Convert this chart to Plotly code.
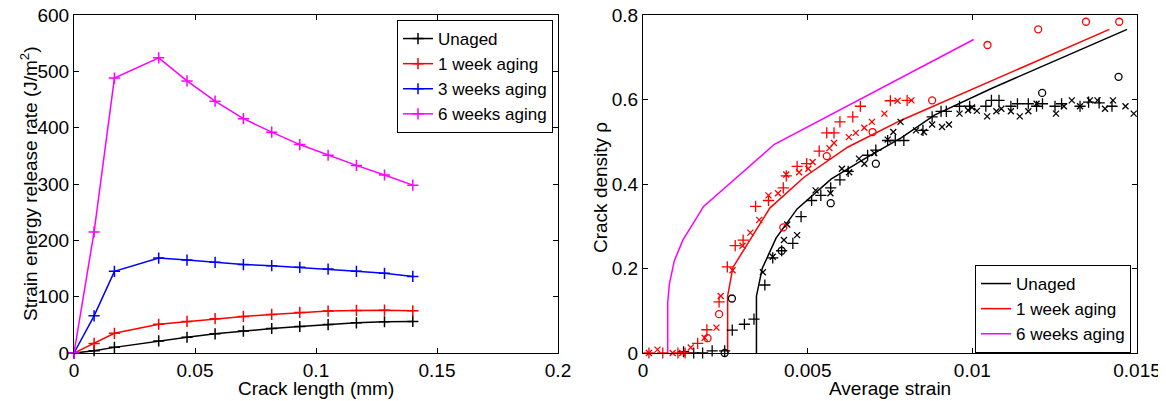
import plotly.graph_objects as go

# ---------------- Left panel data ----------------
crack_len = [0, 0.0083, 0.0167, 0.035, 0.0467, 0.0583, 0.07, 0.0817, 0.0933, 0.105, 0.1167, 0.1283, 0.14]
g_unaged = [0, 4, 10, 21.5, 28, 34, 39, 43.5, 47, 50.5, 53.5, 55.5, 56]
g_1week = [0, 17, 35, 51, 56, 61, 65, 68.5, 72, 74.5, 75.5, 76, 75]
g_3weeks = [0, 66, 145, 168.5, 165, 161, 157, 155, 152, 149, 145, 141.5, 136]
g_6weeks = [0, 215, 488, 524, 483, 447, 416, 392, 370, 351, 333, 316, 298]

# ---------------- Right panel data ----------------
# model curves
line_unaged_x = [0.003445, 0.003445, 0.00362, 0.00404, 0.00468, 0.00572, 0.0068, 0.00785, 0.00885, 0.01058, 0.0147]
line_unaged_y = [0, 0.135, 0.2, 0.272, 0.341, 0.412, 0.463, 0.51, 0.563, 0.626, 0.766]
line_1week_x = [0.00257, 0.00257, 0.00273, 0.00385, 0.00489, 0.00621, 0.00784, 0.01416]
line_1week_y = [0, 0.135, 0.2025, 0.343, 0.416, 0.487, 0.551, 0.766]
line_6weeks_x = [0.00075, 0.00075, 0.0008, 0.00095, 0.00121, 0.00184, 0.00399, 0.01004]
line_6weeks_y = [0, 0.119, 0.163, 0.218, 0.267, 0.347, 0.494, 0.742]

# experimental points: unaged
bp_x = [0.00123, 0.00154, 0.00181, 0.0021, 0.00248, 0.00271, 0.00308, 0.00337, 0.0037, 0.00394, 0.00421,
        0.00455, 0.0048, 0.00512, 0.0054, 0.0057, 0.00598, 0.00623, 0.00682, 0.00707, 0.00743, 0.00766,
        0.00792, 0.0085, 0.00878, 0.00905, 0.00921, 0.00961, 0.00992, 0.01041, 0.01058, 0.01081, 0.01117,
        0.01137, 0.0117, 0.01195, 0.01213, 0.01251, 0.01271, 0.01327, 0.01353, 0.01385, 0.01424]
bp_y = [0.003, 0, 0, 0.005, 0.005, 0.054, 0.068, 0.080, 0.161, 0.225, 0.242,
        0.2595, 0.323, 0.361, 0.373, 0.391, 0.41, 0.430, 0.468, 0.48, 0.503, 0.503,
        0.503, 0.527, 0.559, 0.572, 0.572, 0.584, 0.584, 0.584, 0.598, 0.598, 0.584,
        0.590, 0.590, 0.584, 0.590, 0.584, 0.590, 0.584, 0.594, 0.592, 0.584]
bx_x = [0.00364, 0.00394, 0.00428, 0.00438, 0.00468, 0.00524, 0.00569, 0.00604, 0.00626, 0.00656, 0.00672,
        0.00702, 0.00743, 0.0076, 0.00782, 0.00829, 0.00853, 0.00878, 0.00908, 0.00929, 0.00961, 0.00987,
        0.00999, 0.01014, 0.01045, 0.01073, 0.01088, 0.01117, 0.01144, 0.0117, 0.01195, 0.01254, 0.01278,
        0.01302, 0.01327, 0.01357, 0.0138, 0.01403, 0.01427, 0.01465, 0.0149]
bx_y = [0.191, 0.228, 0.2675, 0.304, 0.279, 0.385, 0.378, 0.436, 0.428, 0.46, 0.448,
        0.473, 0.505, 0.523, 0.547, 0.527, 0.523, 0.541, 0.535, 0.541, 0.5665, 0.5745,
        0.581, 0.573, 0.560, 0.572, 0.578, 0.572, 0.560, 0.572, 0.590, 0.5665, 0.584,
        0.598, 0.584, 0.598, 0.598, 0.578, 0.598, 0.584, 0.5665]
bo_x = [0.00248, 0.0027, 0.00421, 0.0057, 0.00707, 0.01212, 0.01444]
bo_y = [0, 0.129, 0.242, 0.3545, 0.448, 0.6156, 0.6536]

# experimental points: 1 week aging
rp_x = [0.00018, 0.0006, 0.00106, 0.00128, 0.00166, 0.00194, 0.00231, 0.00256, 0.0028, 0.00304, 0.00342,
        0.00381, 0.00426, 0.00435, 0.00468, 0.00497, 0.00535, 0.00558, 0.0058, 0.00598, 0.00637, 0.0066,
        0.00751, 0.00802]
rp_y = [0, 0, 0, 0, 0.023, 0.055, 0.121, 0.204, 0.254, 0.267, 0.347,
        0.361, 0.391, 0.419, 0.4415, 0.448, 0.478, 0.521, 0.521, 0.547, 0.559, 0.584,
        0.597, 0.598]
rx_x = [0.00018, 0.00044, 0.0009, 0.00119, 0.00145, 0.00187, 0.00223, 0.00236, 0.00272, 0.00302, 0.00326,
        0.00353, 0.00381, 0.0041, 0.00435, 0.00474, 0.00502, 0.00515, 0.00566, 0.0058, 0.00625, 0.00646,
        0.00672, 0.00695, 0.00733, 0.00773, 0.00815]
rx_y = [0, 0.008, 0, 0, 0.013, 0.036, 0.060, 0.135, 0.196, 0.254, 0.285,
        0.315, 0.373, 0.378, 0.4225, 0.428, 0.436, 0.452, 0.485, 0.497, 0.511, 0.521,
        0.533, 0.547, 0.5665, 0.597, 0.598]
ro_x = [0.00196, 0.00231, 0.00426, 0.00558, 0.00697, 0.00878, 0.01046, 0.0120, 0.01345, 0.01446]
ro_y = [0.035, 0.092, 0.2975, 0.466, 0.523, 0.598, 0.729, 0.766, 0.784, 0.784]

BLACK, RED, BLUE, MAG = "#000000", "#ff0000", "#0000ff", "#ff00ff"
FONT = "Liberation Sans, Arial, Helvetica, sans-serif"

fig = go.Figure()

for name, ys, col in [("Unaged", g_unaged, BLACK), ("1 week aging", g_1week, RED),
                      ("3 weeks aging", g_3weeks, BLUE), ("6 weeks aging", g_6weeks, MAG)]:
    fig.add_trace(go.Scatter(
        x=crack_len, y=ys, name=name, mode="lines+markers",
        line=dict(color=col, width=1.5),
        marker=dict(symbol="cross-thin-open", size=8, line=dict(color=col, width=1.5)),
        cliponaxis=False, xaxis="x", yaxis="y", legend="legend"))

for name, xs, ys, col in [("Unaged", line_unaged_x, line_unaged_y, BLACK),
                          ("1 week aging", line_1week_x, line_1week_y, RED),
                          ("6 weeks aging", line_6weeks_x, line_6weeks_y, MAG)]:
    fig.add_trace(go.Scatter(x=xs, y=ys, name=name, mode="lines",
                             line=dict(color=col, width=1.5),
                             xaxis="x2", yaxis="y2", legend="legend2"))

def pts(xs, ys, col, sym, size):
    fig.add_trace(go.Scatter(x=xs, y=ys, mode="markers", showlegend=False,
                             marker=dict(symbol=sym, size=size, color=col,
                                         line=dict(color=col, width=1.3)),
                             cliponaxis=False, xaxis="x2", yaxis="y2"))

pts(bp_x, bp_y, BLACK, "cross-thin-open", 8)
pts(bx_x, bx_y, BLACK, "x-thin-open", 6)
pts(bo_x, bo_y, BLACK, "circle-open", 7)
pts(rp_x, rp_y, RED, "cross-thin-open", 8)
pts(rx_x, rx_y, RED, "x-thin-open", 6)
pts(ro_x, ro_y, RED, "circle-open", 7)

FS = 19
LFS = 17
axis_common = dict(showline=True, linecolor="black", linewidth=1, mirror="ticks",
                   ticks="inside", ticklen=5, tickcolor="black", showgrid=False,
                   zeroline=False, automargin=False, ticklabeloverflow="allow",
                   tickfont=dict(size=FS, color="black"))

# the page's 8px body margin shifts the figure; size it to fill the visible window
FW, FH = 1158, 393
L, R, T, B = 66, 29, 7, 48
W = FW - L - R
H = FH - T - B
LEFT_END = 484 / W
RIGHT_START = 569 / W

fig.update_layout(
    width=FW, height=FH,
    margin=dict(l=L, r=R, t=T, b=B, autoexpand=False),
    paper_bgcolor="white", plot_bgcolor="white",
    font=dict(family=FONT, size=FS, color="black"),
    xaxis=dict(domain=[0, LEFT_END], range=[0, 0.2], dtick=0.05, **axis_common),
    yaxis=dict(domain=[0, 1], range=[0, 600], dtick=100, **axis_common),
    xaxis2=dict(domain=[RIGHT_START, 1], range=[0, 0.015], dtick=0.005, anchor="y2", **axis_common),
    yaxis2=dict(domain=[0, 1], range=[0, 0.8], dtick=0.2, anchor="x2", **axis_common),
    legend=dict(x=(545 - L) / W, xanchor="right", y=(H - 5) / H, yanchor="top",
                bordercolor="black", borderwidth=1, bgcolor="white",
                font=dict(size=LFS), itemwidth=30, tracegroupgap=0),
    legend2=dict(x=(1123 - L) / W, xanchor="right", y=0.0, yanchor="bottom",
                 bordercolor="black", borderwidth=1, bgcolor="white",
                 font=dict(size=LFS), itemwidth=30),
)

# axis titles as annotations so they sit where the reference draws them
titles = [
    dict(text="Crack length (mm)", x=LEFT_END / 2, y=0, xshift=0, yshift=-35, textangle=0),
    dict(text="Average strain", x=(RIGHT_START + 1) / 2, y=0, xshift=0, yshift=-35, textangle=0),
    dict(text="Strain energy release rate (J/m<sup>2</sup>)", x=0, y=0.5, xshift=-45, yshift=0, textangle=-90),
    dict(text="Crack density ρ", x=RIGHT_START, y=0.5, xshift=-43, yshift=-4, textangle=-90),
]
for t in titles:
    fig.add_annotation(text=t["text"], xref="paper", yref="paper", x=t["x"], y=t["y"],
                       xshift=t["xshift"], yshift=t["yshift"], textangle=t["textangle"],
                       xanchor="center", yanchor="middle", showarrow=False,
                       font=dict(size=FS, color="black", family=FONT))

fig.write_html("out.html")
